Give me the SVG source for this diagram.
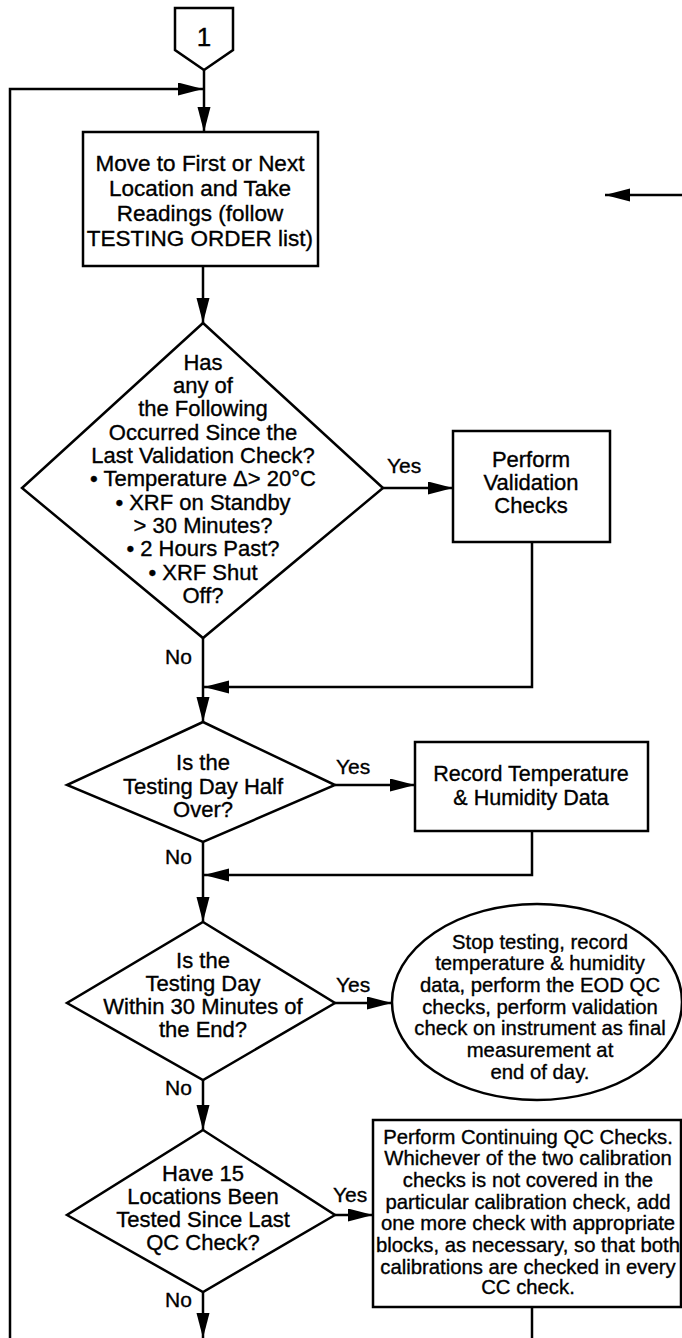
<svg xmlns="http://www.w3.org/2000/svg" width="682" height="1338" viewBox="0 0 682 1338">
<style>
.s{fill:#fff;stroke:#000;stroke-width:2.5}
.c{fill:none;stroke:#000;stroke-width:2.5}
text{font-family:"Liberation Sans",Arial,Helvetica,sans-serif;fill:#000;stroke:#000;stroke-width:0.35}
.t{font-size:22px;text-anchor:middle}
.b{font-size:22.5px;text-anchor:middle}
.r{font-size:21.5px;text-anchor:middle}
.e{font-size:20.3px;text-anchor:middle}
.l{font-size:21px}
</style>
<defs>
<marker id="ah" markerUnits="userSpaceOnUse" markerWidth="26" markerHeight="14" refX="25" refY="6.5" orient="auto">
<path d="M0,0 L25,6.5 L0,13 z" fill="#000"/>
</marker>
</defs>
<rect width="682" height="1338" fill="#fff"/>
<g id="connectors">
<line class="c" x1="204" y1="70" x2="204" y2="132" marker-end="url(#ah)"/>
<polyline class="c" points="10,1338 10,89 203,89" marker-end="url(#ah)"/>
<line class="c" x1="682" y1="195" x2="605" y2="195" marker-end="url(#ah)"/>
<line class="c" x1="203" y1="266" x2="203" y2="323" marker-end="url(#ah)"/>
<line class="c" x1="383" y1="488" x2="453" y2="488" marker-end="url(#ah)"/>
<polyline class="c" points="532,542 532,687 204,687" marker-end="url(#ah)"/>
<line class="c" x1="203" y1="638" x2="203" y2="722" marker-end="url(#ah)"/>
<line class="c" x1="335" y1="785" x2="415" y2="785" marker-end="url(#ah)"/>
<polyline class="c" points="532,831 532,875 204,875" marker-end="url(#ah)"/>
<line class="c" x1="203" y1="842" x2="203" y2="922" marker-end="url(#ah)"/>
<line class="c" x1="335" y1="1003" x2="392" y2="1003" marker-end="url(#ah)"/>
<line class="c" x1="203" y1="1080" x2="203" y2="1130" marker-end="url(#ah)"/>
<line class="c" x1="335" y1="1215" x2="373" y2="1215" marker-end="url(#ah)"/>
<line class="c" x1="203" y1="1292" x2="203" y2="1338" marker-end="url(#ah)"/>
<line class="c" x1="532" y1="1307" x2="532" y2="1338"/>
<text class="l" x="387" y="473">Yes</text>
<text class="l" x="165" y="664">No</text>
<text class="l" x="336" y="774">Yes</text>
<text class="l" x="165" y="864">No</text>
<text class="l" x="336" y="992">Yes</text>
<text class="l" x="165" y="1095">No</text>
<text class="l" x="333" y="1202">Yes</text>
<text class="l" x="165" y="1307">No</text>
</g>
<g id="start">
<polygon class="s" points="175,8 233,8 233,50 204,70 175,50"/>
<text x="204" y="46" style="font-size:26px;text-anchor:middle">1</text>
</g>
<g id="move">
<rect class="s" x="83" y="132" width="235" height="134"/>
<text class="b" x="200" y="171">Move to First or Next</text>
<text class="b" x="200" y="196">Location and Take</text>
<text class="b" x="200" y="221">Readings (follow</text>
<text class="b" x="200" y="246">TESTING ORDER list)</text>
</g>
<g id="d1">
<polygon class="s" points="203,323 383,488 203,638 22,488"/>
<text class="t" x="203" y="370">Has</text>
<text class="t" x="203" y="393">any of</text>
<text class="t" x="203" y="416">the Following</text>
<text class="t" x="203" y="440">Occurred Since the</text>
<text class="t" x="203" y="463">Last Validation Check?</text>
<text class="t" x="203" y="486">•  Temperature Δ&gt; 20°C</text>
<text class="t" x="203" y="510">•  XRF on Standby</text>
<text class="t" x="203" y="533">&gt; 30 Minutes?</text>
<text class="t" x="203" y="556">•  2 Hours Past?</text>
<text class="t" x="203" y="580">•  XRF Shut</text>
<text class="t" x="203" y="603">Off?</text>
</g>
<g id="validate">
<rect class="s" x="453" y="431" width="157" height="111"/>
<text class="t" x="531" y="467">Perform</text>
<text class="t" x="531" y="490">Validation</text>
<text class="t" x="531" y="513">Checks</text>
</g>
<g id="d2">
<polygon class="s" points="203,722 335,785 203,842 67,785"/>
<text class="t" x="203" y="770">Is the</text>
<text class="t" x="203" y="794">Testing Day Half</text>
<text class="t" x="203" y="817">Over?</text>
</g>
<g id="record">
<rect class="s" x="415" y="742" width="233" height="89"/>
<text class="r" x="531" y="781">Record Temperature</text>
<text class="r" x="531" y="805">&amp; Humidity Data</text>
</g>
<g id="d3">
<polygon class="s" points="203,922 335,1003 203,1080 67,1003"/>
<text class="t" x="203" y="968">Is the</text>
<text class="t" x="203" y="991">Testing Day</text>
<text class="t" x="203" y="1014">Within 30 Minutes of</text>
<text class="t" x="203" y="1037">the End?</text>
</g>
<g id="stop">
<ellipse class="s" cx="537" cy="1002" rx="145" ry="98"/>
<text class="e" x="540" y="949">Stop testing, record</text>
<text class="e" x="540" y="970">temperature &amp; humidity</text>
<text class="e" x="540" y="992">data, perform the EOD QC</text>
<text class="e" x="540" y="1014">checks, perform validation</text>
<text class="e" x="540" y="1035">check on instrument as final</text>
<text class="e" x="540" y="1057">measurement at</text>
<text class="e" x="540" y="1079">end of day.</text>
</g>
<g id="d4">
<polygon class="s" points="203,1130 335,1215 203,1292 67,1215"/>
<text class="t" x="203" y="1181">Have 15</text>
<text class="t" x="203" y="1204">Locations Been</text>
<text class="t" x="203" y="1227">Tested Since Last</text>
<text class="t" x="203" y="1250">QC Check?</text>
</g>
<g id="qc">
<rect class="s" x="373" y="1120" width="308" height="187"/>
<text class="e" x="528" y="1144">Perform Continuing QC Checks.</text>
<text class="e" x="528" y="1165">Whichever of the two calibration</text>
<text class="e" x="528" y="1187">checks is not covered in the</text>
<text class="e" x="528" y="1209">particular calibration check, add</text>
<text class="e" x="528" y="1230">one more check with appropriate</text>
<text class="e" x="528" y="1252">blocks, as necessary, so that both</text>
<text class="e" x="528" y="1274">calibrations are checked in every</text>
<text class="e" x="528" y="1294">CC check.</text>
</g>
</svg>
